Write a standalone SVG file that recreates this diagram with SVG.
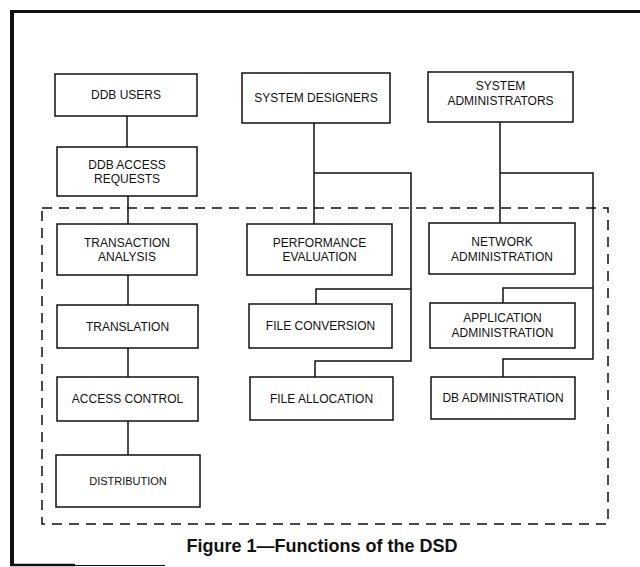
<svg xmlns="http://www.w3.org/2000/svg" width="640" height="567" viewBox="0 0 640 567">
  <style>
    .box { fill: #fff; stroke: #111; stroke-width: 1.5; }
    .lbl { font-family: "Liberation Sans", Arial, sans-serif; font-size: 12px; fill: #111; text-anchor: middle; }
    .wire { fill: none; stroke: #111; stroke-width: 1.5; }
    .frame { fill: none; stroke: #111; }
    .dash { fill: none; stroke: #111; stroke-width: 1.5; stroke-dasharray: 10 7; }
    .cap { font-family: "Liberation Sans", Arial, sans-serif; font-size: 18px; font-weight: bold; fill: #111; text-anchor: middle; }
  </style>
  <rect width="640" height="567" fill="#fff"/>

  <!-- page frame: top and left rules, partial bottom rule -->
  <g id="frame">
    <line class="frame" x1="10" y1="11.5" x2="640" y2="11.5" stroke-width="3"/>
    <line class="frame" x1="12" y1="10" x2="12" y2="566" stroke-width="4"/>
    <line class="frame" x1="10" y1="565" x2="75" y2="565" stroke-width="2.5"/>
    <line class="frame" x1="75" y1="565.5" x2="165" y2="565.5" stroke-width="1.2" stroke="#777"/>
  </g>

  <!-- DSD boundary -->
  <rect id="dsd-boundary" class="dash" x="42" y="208" width="566" height="316"/>

  <!-- connectors -->
  <g id="connectors">
    <line class="wire" x1="127" y1="116" x2="127" y2="147"/>
    <line class="wire" x1="128" y1="196" x2="128" y2="224"/>
    <line class="wire" x1="128" y1="275" x2="128" y2="305"/>
    <line class="wire" x1="128" y1="348" x2="128" y2="377"/>
    <line class="wire" x1="128" y1="421" x2="128" y2="455"/>

    <line class="wire" x1="314" y1="123" x2="314" y2="224"/>
    <polyline class="wire" points="314,173 411,173 411,361 315,361 315,377"/>
    <polyline class="wire" points="411,289 316,289 316,304"/>

    <line class="wire" x1="500" y1="122" x2="500" y2="223"/>
    <polyline class="wire" points="500,173 593,173 593,359 503,359 503,377"/>
    <polyline class="wire" points="593,288 503,288 503,303"/>
  </g>

  <!-- user-facing column -->
  <g id="ddb-users">
    <rect class="box" x="55" y="74" width="142" height="42"/>
    <text class="lbl" x="126" y="99.3">DDB USERS</text>
  </g>
  <g id="ddb-access-requests">
    <rect class="box" x="57" y="147" width="140" height="49"/>
    <text class="lbl" x="127" y="169">DDB ACCESS</text>
    <text class="lbl" x="127" y="183">REQUESTS</text>
  </g>
  <g id="transaction-analysis">
    <rect class="box" x="57" y="224" width="140" height="51"/>
    <text class="lbl" x="127" y="247">TRANSACTION</text>
    <text class="lbl" x="127" y="261">ANALYSIS</text>
  </g>
  <g id="translation">
    <rect class="box" x="57" y="305" width="141" height="43"/>
    <text class="lbl" x="127.5" y="330.5">TRANSLATION</text>
  </g>
  <g id="access-control">
    <rect class="box" x="57" y="377" width="141" height="44"/>
    <text class="lbl" x="127.5" y="403">ACCESS CONTROL</text>
  </g>
  <g id="distribution">
    <rect class="box" x="56" y="455" width="144" height="52"/>
    <text class="lbl" x="128" y="485" style="font-size:11px">DISTRIBUTION</text>
  </g>

  <!-- designer column -->
  <g id="system-designers">
    <rect class="box" x="242" y="73" width="148" height="50"/>
    <text class="lbl" x="316" y="102.3">SYSTEM DESIGNERS</text>
  </g>
  <g id="performance-evaluation">
    <rect class="box" x="247" y="224" width="145" height="51"/>
    <text class="lbl" x="319.5" y="247">PERFORMANCE</text>
    <text class="lbl" x="319.5" y="261">EVALUATION</text>
  </g>
  <g id="file-conversion">
    <rect class="box" x="249" y="304" width="143" height="44"/>
    <text class="lbl" x="320.5" y="330.3">FILE CONVERSION</text>
  </g>
  <g id="file-allocation">
    <rect class="box" x="250" y="377" width="143" height="43"/>
    <text class="lbl" x="321.5" y="402.8">FILE ALLOCATION</text>
  </g>

  <!-- administrator column -->
  <g id="system-administrators">
    <rect class="box" x="428" y="72" width="145" height="50"/>
    <text class="lbl" x="500.5" y="89.5">SYSTEM</text>
    <text class="lbl" x="500.5" y="105">ADMINISTRATORS</text>
  </g>
  <g id="network-administration">
    <rect class="box" x="429" y="223" width="146" height="51"/>
    <text class="lbl" x="502" y="246">NETWORK</text>
    <text class="lbl" x="502" y="260.5">ADMINISTRATION</text>
  </g>
  <g id="application-administration">
    <rect class="box" x="430" y="303" width="145" height="45"/>
    <text class="lbl" x="502.5" y="322">APPLICATION</text>
    <text class="lbl" x="502.5" y="336.5">ADMINISTRATION</text>
  </g>
  <g id="db-administration">
    <rect class="box" x="431" y="377" width="144" height="42"/>
    <text class="lbl" x="503" y="402.3">DB ADMINISTRATION</text>
  </g>

  <text id="caption" class="cap" x="322" y="552">Figure 1—Functions of the DSD</text>
</svg>
